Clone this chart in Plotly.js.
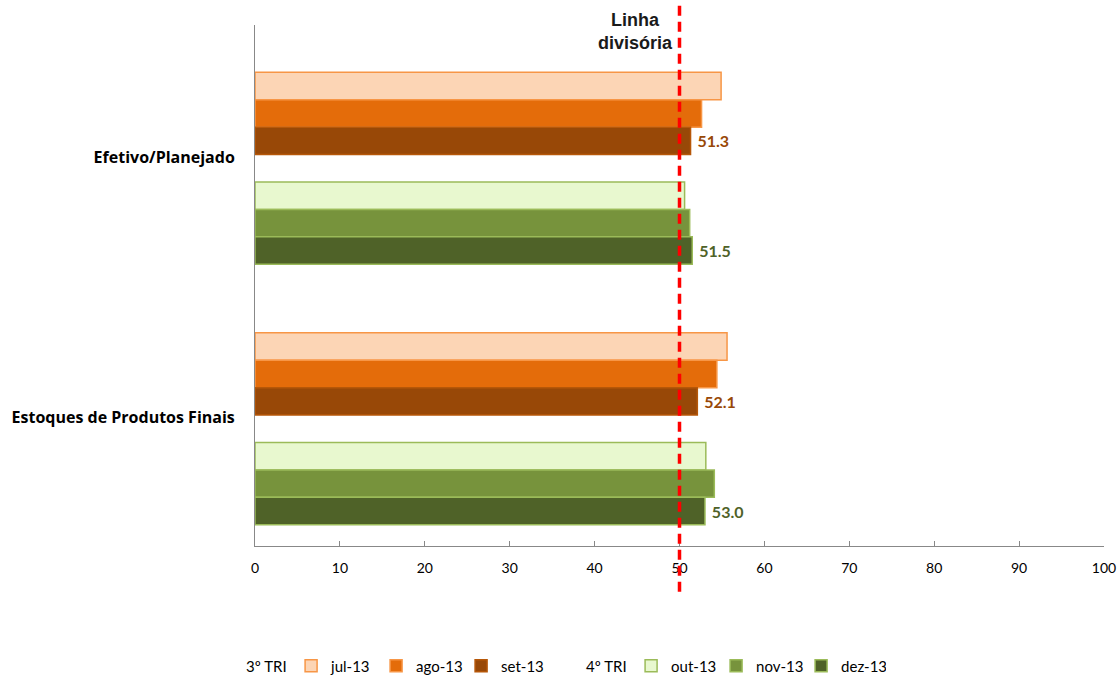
<!DOCTYPE html>
<html>
<head>
<meta charset="utf-8">
<script src="https://cdn.plot.ly/plotly-3.0.1.min.js"></script>
<style>html,body{margin:0;padding:0;background:#fff;}#chart{width:1117px;height:675px;}</style>
</head>
<body>
<div id="chart"></div>
<script>
// ---- data ----
const categories = ["Efetivo/Planejado", "Estoques de Produtos Finais"];
const groupLabels = ["3º TRI", "4º TRI"];
const seriesNames = ["jul-13", "ago-13", "set-13", "out-13", "nov-13", "dez-13"];
const jul13 = [54.9, 55.6];
const ago13 = [52.6, 54.4];
const set13 = [51.3, 52.1];
const out13 = [50.6, 53.1];
const nov13 = [51.2, 54.1];
const dez13 = [51.5, 53.0];
const dividingLine = 50;
const dividingLabel = "Linha<br>divisória";
const xTicks = [0, 10, 20, 30, 40, 50, 60, 70, 80, 90, 100];

// ---- styles ----
const FONT = "Lato, 'Open Sans', sans-serif";
const styles = [
  {fill: "#FCD5B5", line: "#F79646", text: null},
  {fill: "#E46C0A", line: "#F79646", text: null},
  {fill: "#984807", line: "#B65708", text: "#984807"},
  {fill: "#E8F8CF", line: "#9BBB59", text: null},
  {fill: "#77933C", line: "#9BBB59", text: null},
  {fill: "#4F6228", line: "#9BBB59", text: "#4F6228"}
];
const values = [jul13, ago13, set13, out13, nov13, dez13];

function barTrace(i) {
  const s = styles[i];
  const t = {
    type: "bar", orientation: "h",
    name: seriesNames[i], x: values[i], y: categories,
    marker: {color: s.fill, line: {color: s.line, width: 1.5}},
    hoverinfo: "x+name", cliponaxis: false
  };
  if (s.text) {
    t.texttemplate = " %{x:.1f}";
    t.textposition = "outside";
    t.textfont = {family: FONT, size: 16, color: s.text, weight: "bold"};
  } else {
    t.textposition = "none";
  }
  return t;
}

const data = [];
// legend label "3º TRI" (no marks)
data.push({type: "scatter", mode: "markers", name: groupLabels[0], x: [null], y: [null],
  marker: {color: "rgba(0,0,0,0)", size: 1, line: {width: 0}}, hoverinfo: "skip"});
data.push(barTrace(0), barTrace(1), barTrace(2));
// gap between quarters, also legend label "4º TRI"
data.push({type: "bar", orientation: "h", name: groupLabels[1], x: [null, null], y: categories,
  marker: {color: "rgba(0,0,0,0)", line: {width: 0}}, hoverinfo: "skip"});
data.push(barTrace(3), barTrace(4), barTrace(5));

const layout = {
  width: 1117, height: 675,
  margin: {l: 255, r: 13, t: 25, b: 129},
  paper_bgcolor: "#fff", plot_bgcolor: "#fff",
  barmode: "group", bargap: 0.263, bargroupgap: 0,
  font: {family: FONT, color: "#000"},
  showlegend: true,
  legend: {orientation: "h", xref: "container", x: 0.1845, xanchor: "left",
    yref: "container", y: 0.0133, yanchor: "middle",
    font: {family: FONT, size: 15, color: "#000"}, traceorder: "normal",
    entrywidth: 40, entrywidthmode: "pixels"},
  xaxis: {range: [0, 100], tickvals: xTicks, ticks: "inside", ticklen: 5, tickcolor: "#888",
    showline: true, linecolor: "#888", linewidth: 1, showgrid: false, zeroline: false,
    tickfont: {family: FONT, size: 14, color: "#000"}, ticklabelstandoff: 9, fixedrange: true},
  yaxis: {type: "category", categoryorder: "array", categoryarray: categories,
    range: [1.45, -0.55], showline: true, linecolor: "#888", linewidth: 1,
    ticks: "", showgrid: false, zeroline: false, ticklabelstandoff: 16, ticklabelshift: 11,
    tickfont: {family: "'Open Sans', sans-serif", size: 16, color: "#000", weight: "bold"}, fixedrange: true},
  shapes: [{type: "line", xref: "x", yref: "paper", x0: dividingLine, x1: dividingLine,
    y0: -0.088, y1: 1.05, line: {color: "#FF0000", width: 3.5, dash: "10px,6px"}}],
  annotations: [{xref: "x", yref: "paper", x: 44.8, y: 0.988, xanchor: "center", yanchor: "middle",
    text: dividingLabel, showarrow: false,
    font: {family: "'Liberation Sans', Arial, sans-serif", size: 18, color: "#1a1a1a", weight: "bold"}}]
};

Plotly.newPlot("chart", data, layout, {displayModeBar: false});
</script>
</body>
</html>
